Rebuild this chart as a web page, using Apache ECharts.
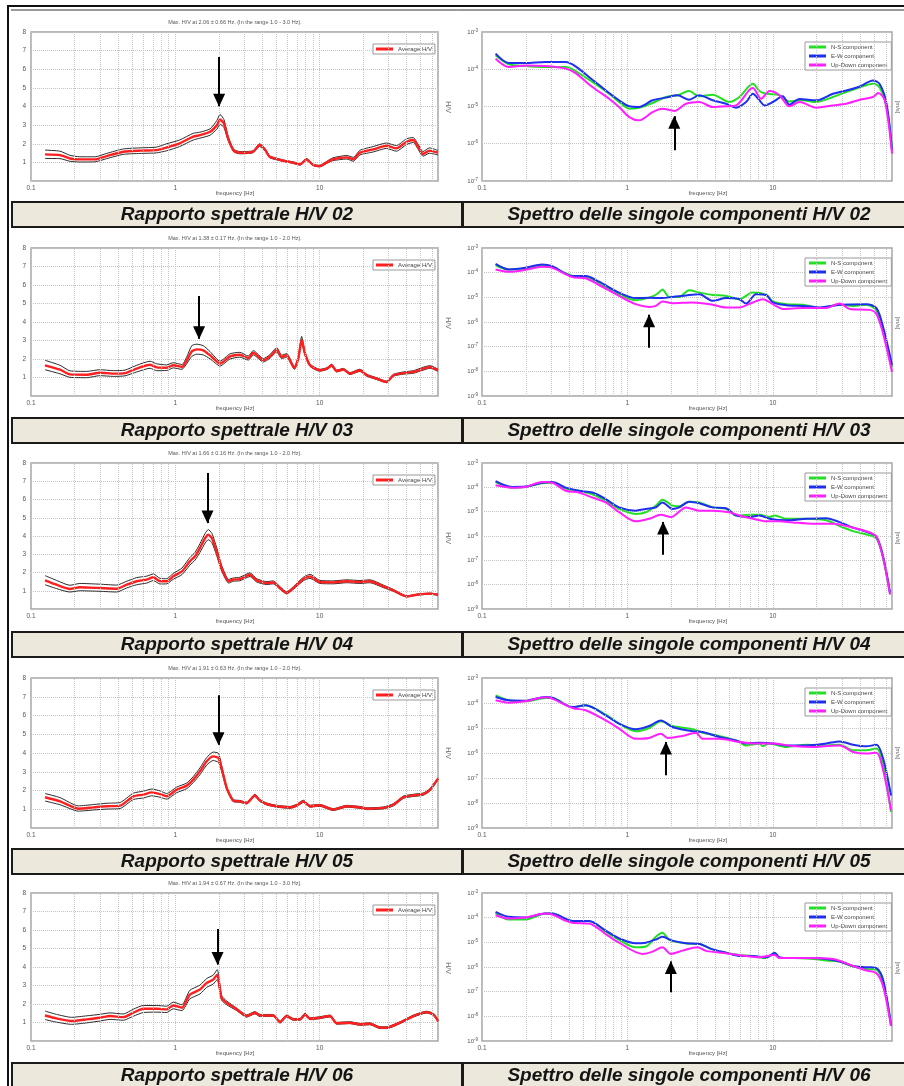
<!DOCTYPE html>
<html><head><meta charset="utf-8">
<script src="https://cdn.jsdelivr.net/npm/echarts@6/dist/echarts.min.js"></script>
<style>html,body{margin:0;padding:0;background:#fff}#c{width:904px;height:1086px}</style>
</head><body><div id="c"></div>
<script>
// ---------------- DATA ----------------
const xTickLabels = ['0.1', '1', '10'];
const minorFreqs = [0.2,0.3,0.4,0.5,0.6,0.7,0.8,0.9,2,3,4,5,6,7,8,9,20,30,40,50,60];

const hvTitles = [
  'Max. H/V at 2.06 \u00b1 0.66 Hz. (In the range 1.0 - 3.0 Hz).',
  'Max. H/V at 1.38 \u00b1 0.17 Hz. (In the range 1.0 - 2.0 Hz).',
  'Max. H/V at 1.66 \u00b1 0.16 Hz. (In the range 1.0 - 2.0 Hz).',
  'Max. H/V at 1.91 \u00b1 0.63 Hz. (In the range 1.0 - 2.0 Hz).',
  'Max. H/V at 1.94 \u00b1 0.67 Hz. (In the range 1.0 - 3.0 Hz).'
];
const leftCaptions = ['Rapporto spettrale H/V 02','Rapporto spettrale H/V 03','Rapporto spettrale H/V 04','Rapporto spettrale H/V 05','Rapporto spettrale H/V 06'];
const rightCaptions = ['Spettro delle singole componenti H/V 02','Spettro delle singole componenti H/V 03','Spettro delle singole componenti H/V 04','Spettro delle singole componenti H/V 05','Spettro delle singole componenti H/V 06'];
const legendHV = ['Average H/V'];
const legendSp = ['N-S component','E-W component','Up-Down component'];

// H/V 02
const hv02_f = [0.125,0.159,0.186,0.218,0.278,0.334,0.436,0.57,0.74,0.87,1.07,1.33,1.48,1.74,1.94,2.04,2.17,2.32,2.54,2.8,3.45,3.83,4.2,4.5,5.6,6.6,7.3,8.1,9.0,10,11.1,12.3,15.4,17.1,19,23.5,29,34,40,44.5,48,52,57.5,66];
const hv02_mean = [1.43,1.39,1.21,1.16,1.16,1.34,1.57,1.63,1.66,1.80,2.02,2.38,2.46,2.64,3.00,3.30,3.09,2.29,1.63,1.52,1.57,1.93,1.66,1.30,1.09,0.98,0.89,1.16,0.86,0.80,0.98,1.16,1.27,1.16,1.52,1.70,1.89,1.75,2.11,2.20,1.84,1.45,1.63,1.52];
const hv02_hi = [1.66,1.60,1.38,1.30,1.30,1.48,1.72,1.78,1.82,2.00,2.20,2.56,2.62,2.80,3.25,3.57,3.30,2.40,1.70,1.58,1.62,2.00,1.72,1.35,1.13,1.02,0.93,1.21,0.90,0.84,1.04,1.24,1.37,1.27,1.65,1.85,2.04,1.90,2.27,2.33,1.98,1.58,1.78,1.64];
const hv02_lo = [1.21,1.20,1.06,1.02,1.03,1.20,1.43,1.48,1.51,1.62,1.85,2.20,2.30,2.46,2.78,3.05,2.88,2.17,1.56,1.46,1.52,1.85,1.60,1.25,1.05,0.94,0.85,1.11,0.82,0.76,0.93,1.09,1.18,1.06,1.40,1.56,1.75,1.60,1.96,2.07,1.71,1.33,1.49,1.40];
// H/V 03
const hv03_f = [0.125,0.159,0.186,0.243,0.300,0.372,0.448,0.540,0.668,0.743,0.871,0.968,1.11,1.20,1.30,1.41,1.56,1.74,2.04,2.39,2.80,3.20,3.47,4.07,4.53,5.04,5.45,5.90,6.68,7.11,7.50,7.91,8.57,10.0,11.2,12.1,13.1,14.6,16.2,19.0,21.2,24.8,29.1,32.4,38.0,44.6,52.3,58.1,66];
const hv03_mean = [1.66,1.42,1.17,1.15,1.26,1.21,1.24,1.48,1.69,1.55,1.53,1.66,1.57,1.93,2.41,2.52,2.47,2.20,1.75,2.14,2.23,2.05,2.34,1.93,2.14,2.50,2.11,2.20,1.51,2.05,3.05,2.29,1.66,1.39,1.48,1.66,1.35,1.44,1.21,1.39,1.12,0.94,0.76,1.12,1.24,1.30,1.48,1.57,1.39];
const hv03_hi = [1.93,1.66,1.36,1.33,1.42,1.37,1.40,1.66,1.88,1.74,1.68,1.80,1.70,2.12,2.72,2.80,2.72,2.40,1.88,2.28,2.36,2.16,2.46,2.02,2.24,2.62,2.20,2.30,1.58,2.14,3.22,2.38,1.72,1.44,1.53,1.72,1.40,1.49,1.26,1.45,1.17,0.99,0.80,1.17,1.30,1.37,1.56,1.64,1.45];
const hv03_lo = [1.42,1.20,1.01,0.99,1.10,1.06,1.09,1.30,1.50,1.37,1.38,1.52,1.44,1.75,2.14,2.26,2.22,2.01,1.62,2.00,2.10,1.94,2.22,1.84,2.04,2.38,2.02,2.10,1.44,1.96,2.88,2.20,1.60,1.34,1.43,1.60,1.30,1.39,1.16,1.33,1.07,0.89,0.72,1.07,1.18,1.23,1.40,1.50,1.33];
// H/V 04
const hv04_f = [0.125,0.150,0.186,0.218,0.300,0.392,0.460,0.540,0.633,0.704,0.783,0.871,0.968,1.11,1.26,1.37,1.48,1.61,1.69,1.79,1.93,2.09,2.34,2.52,2.80,3.29,3.66,4.30,4.77,5.31,5.90,6.57,7.71,8.57,10.0,12.4,15.4,19.0,22.3,27.6,32.4,40.1,47.0,58.1,66];
const hv04_mean = [1.57,1.33,1.10,1.19,1.15,1.11,1.33,1.52,1.61,1.74,1.52,1.52,1.79,2.06,2.61,2.89,3.34,3.89,4.07,3.89,3.16,2.25,1.52,1.61,1.64,1.88,1.57,1.42,1.46,1.15,0.88,1.15,1.64,1.79,1.48,1.46,1.52,1.48,1.52,1.24,1.02,0.69,0.78,0.84,0.78];
const hv04_hi = [1.83,1.57,1.30,1.40,1.36,1.31,1.52,1.72,1.80,1.92,1.68,1.66,1.95,2.24,2.82,3.10,3.58,4.15,4.35,4.15,3.38,2.40,1.62,1.70,1.74,1.98,1.66,1.50,1.54,1.22,0.94,1.22,1.74,1.90,1.57,1.54,1.60,1.56,1.60,1.31,1.07,0.72,0.81,0.87,0.81];
const hv04_lo = [1.33,1.12,0.93,1.00,0.97,0.93,1.15,1.33,1.42,1.56,1.37,1.38,1.63,1.88,2.40,2.68,3.10,3.62,3.80,3.64,2.95,2.10,1.42,1.52,1.55,1.78,1.48,1.34,1.38,1.08,0.83,1.08,1.55,1.68,1.40,1.38,1.44,1.40,1.44,1.17,0.97,0.66,0.75,0.81,0.75];
// H/V 05
const hv05_f = [0.125,0.159,0.213,0.270,0.335,0.414,0.512,0.600,0.686,0.783,0.871,1.02,1.20,1.33,1.48,1.65,1.83,1.99,2.09,2.27,2.52,2.80,3.12,3.56,3.86,4.30,5.04,6.23,6.93,7.71,8.57,10.0,12.4,15.4,19.0,21.2,27.6,32.4,38.0,44.6,52.3,58.1,66];
const hv05_mean = [1.64,1.42,1.03,1.10,1.16,1.19,1.69,1.78,1.90,1.81,1.69,2.04,2.26,2.58,3.02,3.56,3.82,3.73,3.20,2.13,1.46,1.42,1.33,1.74,1.46,1.28,1.16,1.10,1.21,1.42,1.16,1.21,0.98,1.16,1.10,1.03,1.07,1.24,1.64,1.74,1.81,2.04,2.63];
const hv05_hi = [1.84,1.62,1.18,1.25,1.32,1.36,1.86,1.96,2.08,1.98,1.84,2.18,2.40,2.74,3.20,3.76,4.05,3.98,3.35,2.20,1.52,1.47,1.38,1.80,1.51,1.33,1.21,1.15,1.27,1.48,1.21,1.26,1.03,1.21,1.15,1.08,1.12,1.30,1.70,1.80,1.87,2.10,2.68];
const hv05_lo = [1.44,1.24,0.90,0.96,1.01,1.04,1.52,1.60,1.72,1.64,1.54,1.88,2.10,2.42,2.84,3.36,3.60,3.50,3.04,2.05,1.40,1.37,1.28,1.68,1.41,1.23,1.11,1.05,1.15,1.36,1.11,1.16,0.93,1.11,1.05,0.98,1.02,1.18,1.58,1.68,1.75,1.98,2.58];
// H/V 06
const hv06_f = [0.125,0.150,0.191,0.243,0.300,0.353,0.436,0.512,0.600,0.743,0.871,0.968,1.11,1.26,1.48,1.65,1.83,1.95,2.09,2.27,2.66,3.12,3.56,3.86,4.77,5.31,5.90,6.57,7.31,7.91,8.57,10.0,11.8,13.1,16.2,19.0,22.3,26.2,29.1,36.0,44.6,55.1,61.3,66];
const hv06_mean = [1.38,1.22,1.08,1.17,1.26,1.35,1.29,1.53,1.74,1.74,1.71,1.92,1.80,2.51,2.78,3.14,3.32,3.59,2.33,2.06,1.71,1.35,1.53,1.38,1.38,1.02,1.35,1.17,1.17,1.44,1.20,1.26,1.35,0.96,0.99,0.90,0.93,0.72,0.72,0.99,1.35,1.56,1.44,1.08];
const hv06_hi = [1.62,1.44,1.28,1.36,1.44,1.52,1.46,1.72,1.92,1.92,1.88,2.10,1.96,2.74,3.02,3.38,3.56,3.86,2.45,2.16,1.78,1.41,1.59,1.44,1.43,1.07,1.40,1.22,1.22,1.50,1.25,1.31,1.40,1.01,1.04,0.95,0.98,0.77,0.77,1.04,1.40,1.61,1.49,1.13];
const hv06_lo = [1.16,1.02,0.90,0.98,1.08,1.17,1.12,1.34,1.54,1.56,1.54,1.74,1.64,2.28,2.54,2.90,3.08,3.32,2.21,1.96,1.64,1.29,1.47,1.32,1.33,0.97,1.30,1.12,1.12,1.38,1.15,1.21,1.30,0.91,0.94,0.85,0.88,0.67,0.67,0.94,1.30,1.51,1.39,1.03];

// Spectra (frequency Hz, amplitude)
const sp02_ns = [[0.124,2.37e-4],[0.153,1.36e-4],[0.199,1.22e-4],[0.273,1.15e-4],[0.376,1.15e-4],[0.44,8.97e-5],[0.574,4.55e-5],[0.748,2.21e-5],[0.876,1.32e-5],[1.03,8.75e-6],[1.20,9.3e-6],[1.49,1.24e-5],[1.84,1.8e-5],[2.21,2.0e-5],[2.66,2.6e-5],[3.12,1.87e-5],[3.86,2.08e-5],[5.02,1.32e-5],[5.89,1.8e-5],[7.28,4.1e-5],[8.09,2.6e-5],[9.0,2.2e-5],[11.1,2.0e-5],[13.0,1.37e-5],[16.1,1.47e-5],[19.9,1.32e-5],[25.9,1.8e-5],[32.0,2.45e-5],[39.6,3.3e-5],[48.9,4.1e-5],[54.4,3.2e-5],[60.5,9.7e-6],[66,8.2e-7]];
const sp02_ew = [[0.124,2.62e-4],[0.153,1.47e-4],[0.199,1.47e-4],[0.273,1.57e-4],[0.376,1.57e-4],[0.44,1.2e-4],[0.574,5.25e-5],[0.748,2.3e-5],[0.876,1.47e-5],[1.03,1.01e-5],[1.20,9.7e-6],[1.49,1.47e-5],[1.84,1.73e-5],[2.21,2.0e-5],[2.66,1.52e-5],[3.12,2.0e-5],[3.86,1.47e-5],[4.77,1.19e-5],[5.58,9.3e-6],[6.55,1.32e-5],[7.28,2.2e-5],[8.09,1.47e-5],[8.77,1.07e-5],[10.0,1.32e-5],[11.7,1.87e-5],[13.0,1.12e-5],[15.3,1.58e-5],[19.9,1.47e-5],[25.9,2.2e-5],[32.0,2.7e-5],[39.6,3.45e-5],[48.9,5.0e-5],[54.4,3.95e-5],[60.5,1.19e-5],[66,6.7e-7]];
const sp02_ud = [[0.124,1.92e-4],[0.153,1.15e-4],[0.199,1.27e-4],[0.273,1.22e-4],[0.376,1.04e-4],[0.44,7.9e-5],[0.574,3.33e-5],[0.748,1.62e-5],[0.876,9.7e-6],[1.03,5.2e-6],[1.20,4.25e-6],[1.49,7.1e-6],[1.74,8.75e-6],[2.10,7.6e-6],[2.53,1.19e-5],[3.12,1.32e-5],[3.86,9.7e-6],[4.77,1.01e-5],[5.58,1.07e-5],[6.90,2.8e-5],[7.28,3.14e-5],[8.31,1.62e-5],[9.49,2.6e-5],[11.1,2.0e-5],[13.0,1.01e-5],[15.3,1.32e-5],[19.9,9.3e-6],[25.9,1.07e-5],[32.0,1.19e-5],[39.6,1.52e-5],[48.9,1.8e-5],[53.0,2.3e-5],[58.9,1.47e-5],[66,5.4e-7]];

const sp03_ns = [[0.124,2.0e-4],[0.153,1.35e-4],[0.199,1.42e-4],[0.259,2.0e-4],[0.304,1.67e-4],[0.418,7.3e-5],[0.516,6.6e-5],[0.638,3.6e-5],[0.876,1.33e-5],[1.14,7.7e-6],[1.41,9.7e-6],[1.61,1.4e-5],[1.74,2.1e-5],[1.94,1.04e-5],[2.27,1.04e-5],[2.66,1.93e-5],[3.12,1.56e-5],[3.86,1.25e-5],[4.77,1.14e-5],[5.89,8.4e-6],[7.28,1.56e-5],[9.0,1.25e-5],[10.0,6.8e-6],[12.4,5.3e-6],[16.1,5.0e-6],[21.0,3.66e-6],[28.8,5.0e-6],[35.6,4.5e-6],[44.0,5.0e-6],[51.6,2.85e-6],[57.4,4.5e-7],[66,1.5e-8]];
const sp03_ew = [[0.124,2.28e-4],[0.153,1.35e-4],[0.199,1.57e-4],[0.259,2.15e-4],[0.304,1.83e-4],[0.418,7.3e-5],[0.516,7.3e-5],[0.638,4.3e-5],[0.876,1.55e-5],[1.14,9.3e-6],[1.41,9.7e-6],[1.74,9.3e-6],[2.04,1.04e-5],[2.53,1.2e-5],[3.12,1.33e-5],[3.86,7.2e-6],[4.77,9.3e-6],[5.89,8.4e-6],[6.55,5.6e-6],[7.67,1.33e-5],[9.0,1.25e-5],[10.0,6.2e-6],[12.4,4.8e-6],[16.1,4.5e-6],[21.0,3.9e-6],[28.8,5.0e-6],[44.0,5.3e-6],[51.6,3.66e-6],[57.4,6.1e-7],[66,1.8e-8]];
const sp03_ud = [[0.124,1.35e-4],[0.153,1.09e-4],[0.199,1.3e-4],[0.259,1.73e-4],[0.304,1.57e-4],[0.418,6.6e-5],[0.516,5.9e-5],[0.638,3.16e-5],[0.876,1.14e-5],[1.14,5.3e-6],[1.41,4.1e-6],[1.57,4.5e-6],[1.74,6.8e-6],[2.04,5.8e-6],[2.81,6.2e-6],[3.86,5.0e-6],[4.77,3.9e-6],[5.89,3.9e-6],[7.28,6.2e-6],[8.53,8.4e-6],[10.0,5.3e-6],[11.7,3.4e-6],[16.1,3.7e-6],[23.3,3.7e-6],[28.8,5.6e-6],[33.8,3.4e-6],[46.4,3.1e-6],[51.6,2.1e-6],[57.4,3.3e-7],[66,9.5e-9]];

const sp04_ns = [[0.124,1.65e-4],[0.161,9.7e-5],[0.199,1.04e-4],[0.259,1.46e-4],[0.304,1.55e-4],[0.376,8.9e-5],[0.464,7.2e-5],[0.574,5.2e-5],[0.709,2.8e-5],[0.876,1.3e-5],[1.14,8.1e-6],[1.34,9.5e-6],[1.57,1.77e-5],[1.74,3.1e-5],[2.04,1.77e-5],[2.27,1.65e-5],[2.66,2.55e-5],[3.12,2.4e-5],[3.86,1.5e-5],[4.77,1.3e-5],[5.58,7.0e-6],[6.90,7.4e-6],[8.09,7.4e-6],[9.49,6.0e-6],[10.3,7.0e-6],[12.4,5.1e-6],[17.0,5.1e-6],[23.3,4.4e-6],[28.8,2.58e-6],[35.6,1.58e-6],[44.0,1.16e-6],[51.6,7.9e-7],[57.4,1.23e-7],[64,4.0e-9]];
const sp04_ew = [[0.124,1.8e-4],[0.161,1.04e-4],[0.199,1.07e-4],[0.259,1.55e-4],[0.304,1.65e-4],[0.376,9.7e-5],[0.464,7.2e-5],[0.574,6.1e-5],[0.709,3.3e-5],[0.876,1.5e-5],[1.14,1.1e-5],[1.34,1.3e-5],[1.57,1.5e-5],[1.74,2.4e-5],[2.04,1.3e-5],[2.27,1.5e-5],[2.66,2.55e-5],[3.12,2.2e-5],[3.86,1.5e-5],[4.77,1.37e-5],[5.58,7.0e-6],[6.90,6.0e-6],[8.09,7.0e-6],[9.49,5.1e-6],[12.4,4.4e-6],[17.0,5.1e-6],[23.3,5.4e-6],[28.8,3.7e-6],[35.6,2.2e-6],[44.0,1.5e-6],[51.6,9.2e-7],[57.4,1.4e-7],[64,4.7e-9]];
const sp04_ud = [[0.124,1.21e-4],[0.161,9.7e-5],[0.199,1.04e-4],[0.259,1.65e-4],[0.304,1.55e-4],[0.376,7.2e-5],[0.464,6.1e-5],[0.574,3.8e-5],[0.709,2.4e-5],[0.876,9.5e-6],[1.14,4.0e-6],[1.41,5.1e-6],[1.70,7.4e-6],[1.99,6.0e-6],[2.53,1.5e-5],[3.12,1.1e-5],[3.86,1.1e-5],[5.02,9.5e-6],[5.89,7.0e-6],[7.28,5.1e-6],[9.0,4.0e-6],[11.1,4.0e-6],[13.7,3.6e-6],[18.9,3.2e-6],[25.9,3.2e-6],[35.6,2.2e-6],[46.4,1.4e-6],[51.6,9.2e-7],[57.4,1.23e-7],[64,4.0e-9]];

const sp05_ns = [[0.124,2.03e-4],[0.153,1.28e-4],[0.199,1.17e-4],[0.273,1.58e-4],[0.304,1.58e-4],[0.418,6.9e-5],[0.516,8.1e-5],[0.709,3.4e-5],[0.876,1.5e-5],[1.14,7.4e-6],[1.41,1.0e-5],[1.70,1.85e-5],[2.04,1.2e-5],[2.81,8.9e-6],[3.29,6.5e-6],[4.29,4.8e-6],[5.58,3.2e-6],[6.55,2.0e-6],[8.09,2.4e-6],[8.53,1.9e-6],[9.49,2.4e-6],[12.4,1.75e-6],[17.0,2.15e-6],[23.3,2.0e-6],[28.8,2.15e-6],[35.6,1.3e-6],[44.0,1.3e-6],[51.6,1.5e-6],[57.4,3.2e-7],[65,4.4e-9]];
const sp05_ew = [[0.124,1.74e-4],[0.153,1.28e-4],[0.199,1.24e-4],[0.273,1.74e-4],[0.304,1.64e-4],[0.418,6.9e-5],[0.516,8.1e-5],[0.709,3.2e-5],[0.876,1.5e-5],[1.14,8.9e-6],[1.41,1.2e-5],[1.70,2.0e-5],[2.04,1.1e-5],[2.81,7.4e-6],[3.29,6.9e-6],[4.29,4.4e-6],[5.58,3.2e-6],[6.55,2.4e-6],[8.09,2.6e-6],[10.0,2.4e-6],[12.4,2.0e-6],[17.0,2.0e-6],[23.3,2.4e-6],[28.8,2.9e-6],[35.6,2.15e-6],[44.0,1.85e-6],[51.6,2.15e-6],[57.4,5.9e-7],[65,2.0e-8]];
const sp05_ud = [[0.124,1.28e-4],[0.153,1.03e-4],[0.199,1.17e-4],[0.273,1.69e-4],[0.304,1.5e-4],[0.418,6.3e-5],[0.516,5.1e-5],[0.709,2.0e-5],[0.876,9.5e-6],[1.14,3.7e-6],[1.41,4.0e-6],[1.70,5.9e-6],[1.89,4.0e-6],[2.39,4.8e-6],[2.96,6.5e-6],[3.29,3.7e-6],[4.29,3.7e-6],[5.58,2.9e-6],[7.28,2.4e-6],[10.0,2.4e-6],[13.7,1.9e-6],[18.9,1.75e-6],[23.3,1.9e-6],[28.8,2.0e-6],[35.6,1.1e-6],[44.0,9.5e-7],[51.6,1.03e-6],[57.4,2.0e-7],[65,5.1e-9]];

const sp06_ns = [[0.124,1.57e-4],[0.153,8.4e-5],[0.199,8.4e-5],[0.273,1.47e-4],[0.304,1.47e-4],[0.418,6.8e-5],[0.544,7.4e-5],[0.709,2.7e-5],[0.876,1.25e-5],[1.14,6.3e-6],[1.34,6.8e-6],[1.57,1.7e-5],[1.74,2.45e-5],[1.94,1.25e-5],[2.53,9.1e-6],[3.12,8.5e-6],[3.86,5.2e-6],[4.77,3.8e-6],[5.89,3.1e-6],[7.28,2.8e-6],[9.0,2.3e-6],[10.3,3.6e-6],[11.1,2.3e-6],[13.7,2.3e-6],[18.9,2.1e-6],[23.3,1.84e-6],[28.8,1.66e-6],[35.6,1.04e-6],[44.0,8.3e-7],[51.6,7.7e-7],[57.4,2.2e-7],[65,5.4e-9]];
const sp06_ew = [[0.124,1.72e-4],[0.153,1.08e-4],[0.199,1.02e-4],[0.273,1.47e-4],[0.304,1.47e-4],[0.418,7.4e-5],[0.544,7.4e-5],[0.709,3.0e-5],[0.876,1.45e-5],[1.14,9.1e-6],[1.34,9.7e-6],[1.57,1.3e-5],[1.74,1.7e-5],[2.04,1.17e-5],[2.53,9.1e-6],[3.12,8.5e-6],[3.86,5.2e-6],[4.77,3.8e-6],[5.89,2.8e-6],[7.28,2.8e-6],[9.0,2.4e-6],[10.3,3.8e-6],[11.1,2.5e-6],[13.7,2.3e-6],[18.9,2.3e-6],[23.3,2.1e-6],[28.8,1.66e-6],[35.6,1.1e-6],[44.0,9.8e-7],[51.6,9.0e-7],[57.4,3.0e-7],[65,4.1e-9]];
const sp06_ud = [[0.124,1.26e-4],[0.153,9.2e-5],[0.199,1.02e-4],[0.273,1.47e-4],[0.304,1.34e-4],[0.418,6.2e-5],[0.544,5.8e-5],[0.709,2.17e-5],[0.876,9.7e-6],[1.27,3.4e-6],[1.49,4.2e-6],[1.74,6.3e-6],[1.99,3.4e-6],[2.39,4.6e-6],[3.04,6.3e-6],[3.47,4.5e-6],[4.77,3.6e-6],[6.55,2.8e-6],[8.09,2.5e-6],[10.3,3.1e-6],[11.1,2.3e-6],[17.0,2.3e-6],[25.9,2.1e-6],[35.6,1.1e-6],[44.0,7.2e-7],[51.6,5.6e-7],[57.4,1.6e-7],[65,4.1e-9]];

// arrows: [frequency, tail value, tip value]
const hvArrows = [[2.01,6.66,4.02],[1.46,5.41,3.10],[1.67,7.45,4.71],[1.99,7.08,4.44],[1.96,6.06,4.13]];
const spArrows = [[2.10,6.7e-7,5.45e-6],[1.41,9.0e-8,1.97e-6],[1.76,1.68e-7,3.74e-6],[1.84,1.28e-7,2.75e-6],[1.99,9.4e-8,1.66e-6]];
const spYMin = [1e-7,1e-9,1e-9,1e-9,1e-9];

// ---------------- BUILD ----------------
const FONT = 'Liberation Sans';
const hvSets = [
  [hv02_f,hv02_mean,hv02_hi,hv02_lo],[hv03_f,hv03_mean,hv03_hi,hv03_lo],[hv04_f,hv04_mean,hv04_hi,hv04_lo],
  [hv05_f,hv05_mean,hv05_hi,hv05_lo],[hv06_f,hv06_mean,hv06_hi,hv06_lo]];
const spSets = [[sp02_ns,sp02_ew,sp02_ud],[sp03_ns,sp03_ew,sp03_ud],[sp04_ns,sp04_ew,sp04_ud],[sp05_ns,sp05_ew,sp05_ud],[sp06_ns,sp06_ew,sp06_ud]];
const zip = (f, v) => f.map((x, i) => [x, v[i]]);

const rowTops = [32, 248, 463, 678, 893];
const rowH = [149, 148, 146, 150, 148];
const capTops = [202, 418, 632, 849, 1063];
const LX = 31, LW = 407, RX = 482, RW = 410;

function fmtX(v) {
  const l = Math.log10(v), r = Math.round(l);
  if (Math.abs(l - r) > 1e-6 || r < -1 || r > 1) return '';
  return xTickLabels[r + 1];
}
const gridLineStyle = {type: 'dotted', color: '#c4c4c4', width: 1};

const grid = [], xAxis = [], yAxis = [], series = [], legend = [], graphic = [];

for (let i = 0; i < 5; i++) {
  const top = rowTops[i], h = rowH[i];
  const gl = 2 * i, gr = 2 * i + 1;
  grid.push({left: LX, top: top, width: LW, height: h, show: true, backgroundColor: '#fff', borderColor: '#a4a4a4', borderWidth: 1.5});
  grid.push({left: RX, top: top, width: RW, height: h, show: true, backgroundColor: '#fff', borderColor: '#a4a4a4', borderWidth: 1.5});
  [gl, gr].forEach(g => xAxis.push({
    type: 'log', logBase: 10, gridIndex: g, min: 0.1, max: 66,
    axisLine: {show: false}, axisTick: {show: false},
    axisLabel: {formatter: fmtX, fontSize: 6.5, color: '#555', margin: 4, fontFamily: FONT, showMaxLabel: false},
    splitLine: {show: true, lineStyle: gridLineStyle}
  }));
  yAxis.push({
    type: 'value', gridIndex: gl, min: 0, max: 8, interval: 1,
    axisLine: {show: false}, axisTick: {show: false},
    axisLabel: {formatter: v => v === 0 ? '' : String(v), fontSize: 6.5, color: '#555', margin: 5, fontFamily: FONT},
    splitLine: {show: true, lineStyle: gridLineStyle}
  });
  yAxis.push({
    type: 'log', logBase: 10, gridIndex: gr, min: spYMin[i], max: 1e-3,
    axisLine: {show: false}, axisTick: {show: false},
    axisLabel: {
      formatter: v => '{b|10}{s|' + Math.round(Math.log10(v)) + '}', margin: 4,
      rich: {b: {fontSize: 6, color: '#555', fontFamily: FONT}, s: {fontSize: 4.5, color: '#555', fontFamily: FONT, verticalAlign: 'top', padding: [0, 0, 3, 0]}}
    },
    splitLine: {show: true, lineStyle: gridLineStyle}
  });

  const minorML = {silent: true, symbol: ['none', 'none'], label: {show: false}, lineStyle: gridLineStyle, animation: false,
    data: minorFreqs.map(v => ({xAxis: v}))};
  series.push({type: 'line', name: 'grid', xAxisIndex: gl, yAxisIndex: gl, data: [], z: 1, markLine: minorML});
  series.push({type: 'line', name: 'grid', xAxisIndex: gr, yAxisIndex: gr, data: [], z: 1, markLine: minorML});

  const [f, m, hi, lo] = hvSets[i];
  const bandStyle = {color: '#2a2a2a', width: 1};
  series.push({type: 'line', name: 'hi', xAxisIndex: gl, yAxisIndex: gl, data: zip(f, hi), showSymbol: false, smooth: 0.2, lineStyle: bandStyle, itemStyle: {color: '#2a2a2a'}, z: 2});
  series.push({type: 'line', name: 'lo', xAxisIndex: gl, yAxisIndex: gl, data: zip(f, lo), showSymbol: false, smooth: 0.2, lineStyle: bandStyle, itemStyle: {color: '#2a2a2a'}, z: 2});
  series.push({type: 'line', name: 'Average H/V', xAxisIndex: gl, yAxisIndex: gl, data: zip(f, m), showSymbol: false, smooth: 0.2,
    lineStyle: {color: '#ff1f1f', width: 2.4}, itemStyle: {color: '#ff1f1f'}, z: 3});

  const colors = ['#22e022', '#1f2fef', '#ff1fff'];
  spSets[i].forEach((d, k) => series.push({type: 'line', name: legendSp[k], xAxisIndex: gr, yAxisIndex: gr, data: d, showSymbol: false, smooth: 0.3,
    lineStyle: {color: colors[k], width: 2}, itemStyle: {color: colors[k]}, z: 3 + k}));

  const arrowML = (a) => ({silent: true, symbol: ['none', 'triangle'], symbolSize: [12, 13], symbolOffset: [0, [0, 6]],
    label: {show: false}, lineStyle: {color: '#000', width: 2, type: 'solid'}, itemStyle: {color: '#000'}, animation: false,
    data: [[{coord: [a[0], a[1]]}, {coord: [a[0], a[2]]}]]});
  series.push({type: 'line', name: 'arrow', xAxisIndex: gl, yAxisIndex: gl, data: [], z: 10, markLine: arrowML(hvArrows[i])});
  series.push({type: 'line', name: 'arrow', xAxisIndex: gr, yAxisIndex: gr, data: [], z: 10, markLine: arrowML(spArrows[i])});

  legend.push({left: 373, top: top + 12, data: legendHV, selectedMode: false, icon: 'rect', itemWidth: 17, itemHeight: 3, itemGap: 2,
    padding: [2, 3], borderColor: '#999', borderWidth: 1, backgroundColor: '#fff',
    textStyle: {fontSize: 6, color: '#444', fontFamily: FONT}});
  legend.push({left: 805, top: top + 10, orient: 'vertical', data: legendSp, selectedMode: false, icon: 'rect', itemWidth: 17, itemHeight: 3, itemGap: 3,
    padding: [2, 4], borderColor: '#999', borderWidth: 1, backgroundColor: '#fff',
    textStyle: {fontSize: 6, color: '#444', fontFamily: FONT}});

  // texts
  graphic.push({type: 'text', style: {text: hvTitles[i], x: 235, y: top - 10, align: 'center', verticalAlign: 'middle', fontSize: 5.5, fill: '#555', fontFamily: FONT}});
  graphic.push({type: 'text', style: {text: 'frequency [Hz]', x: 235, y: top + h + 12, align: 'center', verticalAlign: 'middle', fontSize: 6, fill: '#555', fontFamily: FONT}});
  graphic.push({type: 'text', style: {text: 'frequency [Hz]', x: 708, y: top + h + 12, align: 'center', verticalAlign: 'middle', fontSize: 6, fill: '#555', fontFamily: FONT}});
  graphic.push({type: 'text', x: 448, y: top + 75, rotation: -Math.PI / 2, style: {text: 'H/V', x: 0, y: 0, align: 'center', verticalAlign: 'middle', fontSize: 7, fill: '#666', fontFamily: FONT}});
  graphic.push({type: 'text', x: 898, y: top + 75, rotation: -Math.PI / 2, style: {text: '[m/s]', x: 0, y: 0, align: 'center', verticalAlign: 'middle', fontSize: 6, fill: '#666', fontFamily: FONT}});

  // captions
  const ct = capTops[i];
  graphic.push({type: 'rect', shape: {x: 12, y: ct, width: 450, height: 25}, style: {fill: '#ece9dc', stroke: '#1a1a1a', lineWidth: 2}, z: 50});
  graphic.push({type: 'rect', shape: {x: 463, y: ct, width: 445, height: 25}, style: {fill: '#ece9dc', stroke: '#1a1a1a', lineWidth: 2}, z: 50});
  graphic.push({type: 'text', z: 51, style: {text: leftCaptions[i], x: 237, y: ct + 13, align: 'center', verticalAlign: 'middle', fontSize: 19, fontWeight: 'bold', fontStyle: 'italic', fill: '#141414', fontFamily: FONT}});
  graphic.push({type: 'text', z: 51, style: {text: rightCaptions[i], x: 689, y: ct + 13, align: 'center', verticalAlign: 'middle', fontSize: 19, fontWeight: 'bold', fontStyle: 'italic', fill: '#141414', fontFamily: FONT}});
}
// table frame
graphic.push({type: 'line', z: 52, shape: {x1: 8, y1: 5, x2: 8, y2: 1086}, style: {stroke: '#111', lineWidth: 2}});
graphic.push({type: 'line', z: 52, shape: {x1: 8, y1: 6, x2: 904, y2: 6}, style: {stroke: '#111', lineWidth: 2}});
graphic.push({type: 'line', z: 52, shape: {x1: 11, y1: 10, x2: 904, y2: 10}, style: {stroke: '#333', lineWidth: 1}});

const chart = echarts.init(document.getElementById('c'), null, {renderer: 'canvas'});
chart.setOption({animation: false, backgroundColor: '#fff', grid, xAxis, yAxis, series, legend, graphic});
</script></body></html>
